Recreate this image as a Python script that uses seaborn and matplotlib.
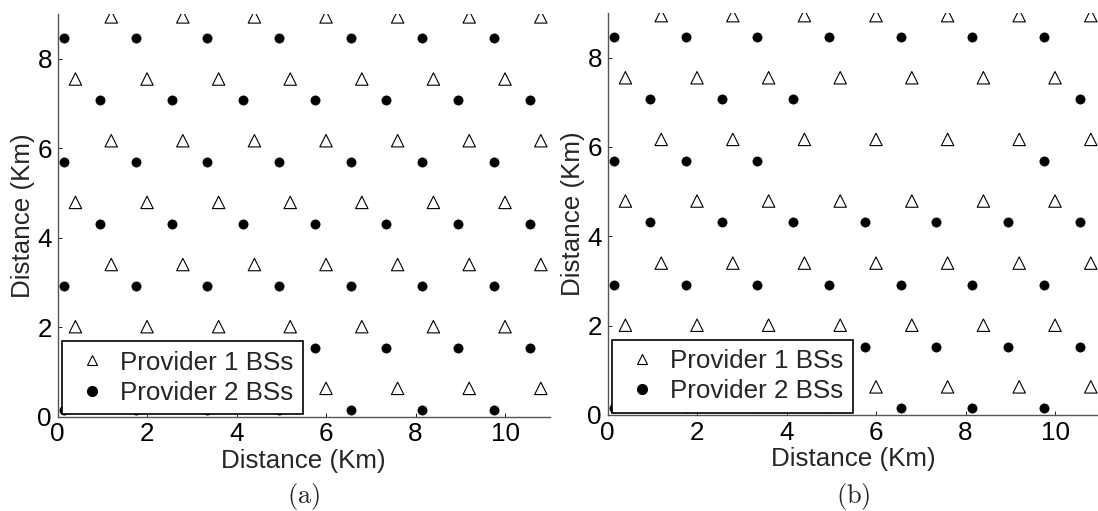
import matplotlib
matplotlib.use("Agg")
import matplotlib.pyplot as plt
import pandas as pd
import seaborn as sns
from matplotlib.lines import Line2D

# Provider 1 base-station sites: alternating row offsets
p1_x_odd = [1.2, 2.8, 4.4, 6.0, 7.6, 9.2, 10.8]
p1_x_even = [0.4, 2.0, 3.6, 5.2, 6.8, 8.4, 10.0]
p1_row_y = [8.94, 7.55, 6.17, 4.79, 3.40, 2.01, 0.63]

# Provider 2 base-station sites
p2_x_odd = [0.15, 1.75, 3.35, 4.95, 6.55, 8.15, 9.75]
p2_x_even = [0.95, 2.55, 4.15, 5.75, 7.35, 8.95, 10.55]
p2_row_y = [8.46, 7.07, 5.69, 4.31, 2.92, 1.53, 0.15]

# Scenario (b): some provider 2 sites switched off in the upper rows
p2_rows_b = [
    [0.15, 1.75, 3.35, 4.95, 6.55, 8.15, 9.75],
    [0.95, 2.55, 4.15, 10.55],
    [0.15, 1.75, 3.35, 9.75],
    [0.95, 2.55, 4.15, 5.75, 7.35, 8.95, 10.55],
    [0.15, 1.75, 3.35, 4.95, 6.55, 8.15, 9.75],
    [0.95, 2.55, 4.15, 5.75, 7.35, 8.95, 10.55],
    [0.15, 1.75, 3.35, 4.95, 6.55, 8.15, 9.75],
]

x_ticks = [0, 2, 4, 6, 8, 10]
y_ticks = [0, 2, 4, 6, 8]
panel_labels = ["(a)", "(b)"]


def sites(rows_x, rows_y):
    xs, ys = [], []
    for row, y in zip(rows_x, rows_y):
        xs += list(row)
        ys += [y] * len(row)
    return pd.DataFrame({"x": xs, "y": ys})


p1_rows = [p1_x_odd if i % 2 == 0 else p1_x_even for i in range(len(p1_row_y))]
p2_rows_a = [p2_x_odd if i % 2 == 0 else p2_x_even for i in range(len(p2_row_y))]

df_p1 = sites(p1_rows, p1_row_y)
df_p2 = [sites(p2_rows_a, p2_row_y), sites(p2_rows_b, p2_row_y)]

sns.set_theme(style="white")
plt.rcParams["font.family"] = ["Liberation Sans", "DejaVu Sans"]
plt.rcParams["mathtext.fontset"] = "cm"
FS = 18.7

fig = plt.figure(figsize=(10.98, 5.11), dpi=100)
axes_pos = [
    [0.0524, 0.1849, 0.4483, 0.7873],
    [0.5533, 0.1879, 0.4483, 0.7867],
]

for k, pos in enumerate(axes_pos):
    ax = fig.add_axes(pos)
    sns.scatterplot(data=df_p1, x="x", y="y", ax=ax, marker="^", s=80,
                    facecolor="none", edgecolor="black", linewidth=0.8,
                    legend=False, zorder=3)
    sns.scatterplot(data=df_p2[k], x="x", y="y", ax=ax, marker="o", s=44,
                    color="black", edgecolor="black", linewidth=0.5,
                    legend=False, zorder=3)
    ax.set_xlim(0, 11)
    ax.set_ylim(0, 9)
    ax.set_xticks(x_ticks)
    ax.set_yticks(y_ticks)
    ax.tick_params(direction="in", length=3, width=0.6, colors="black",
                   labelsize=FS, pad=4, left=True, bottom=True)
    for side in ("top", "right"):
        ax.spines[side].set_visible(False)
    for side in ("left", "bottom"):
        ax.spines[side].set_color("#555555")
        ax.spines[side].set_linewidth(1.0)
    ax.set_xlabel("Distance (Km)", fontsize=FS, labelpad=2)
    ax.set_ylabel("Distance (Km)", fontsize=FS, labelpad=2)
    ax.set_facecolor("white")

    handles = [
        Line2D([], [], ls="none", marker="^", markersize=7.5, mfc="none",
               mec="black", mew=0.8),
        Line2D([], [], ls="none", marker="o", markersize=7, mfc="black",
               mec="black"),
    ]
    leg = ax.legend(handles, ["Provider 1 BSs", "Provider 2 BSs"],
                    loc="lower left", bbox_to_anchor=(0.0085, 0.006),
                    borderaxespad=0, fontsize=FS, frameon=True, fancybox=False,
                    handlelength=1.6, handletextpad=0.3, borderpad=0.35,
                    labelspacing=0.25, framealpha=1)
    leg.get_frame().set_edgecolor("black")
    leg.get_frame().set_linewidth(1.2)
    leg.set_zorder(5)

    cx = pos[0] + pos[2] / 2
    fig.text(cx, 0.029, r"$\mathrm{" + panel_labels[k] + "}$",
             ha="center", va="center", fontsize=19)

fig.savefig("out.png", dpi=100, facecolor="white")
